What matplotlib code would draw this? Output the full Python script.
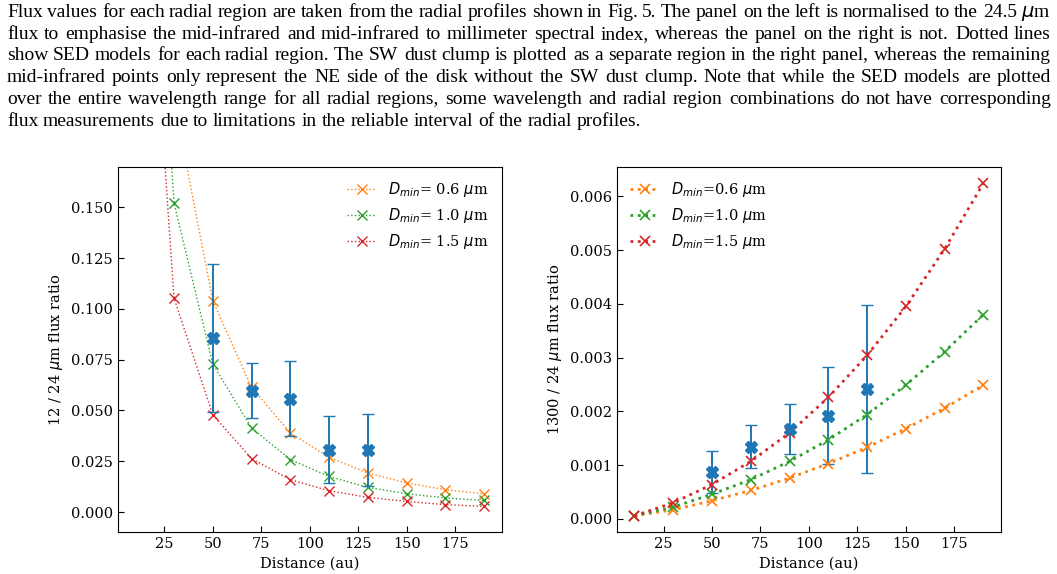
import matplotlib
matplotlib.use("Agg")
import matplotlib.pyplot as plt

plt.rcParams['font.family'] = 'DejaVu Serif'
plt.rcParams['font.size'] = 10.5

# radial regions (au)
distance = [10, 30, 50, 70, 90, 110, 130, 150, 170, 190]

# left panel: 12 / 24 um model ratios
ratio12_d06 = [0.80, 0.2025, 0.1041, 0.0614, 0.0389, 0.0269, 0.0192, 0.0143, 0.0110, 0.0089]
ratio12_d10 = [0.45, 0.1522, 0.0729, 0.0414, 0.0258, 0.0175, 0.0121, 0.0090, 0.0069, 0.0057]
ratio12_d15 = [0.386, 0.1054, 0.0479, 0.0263, 0.0159, 0.0105, 0.0072, 0.0052, 0.0036, 0.0028]

# left panel: measured ratios
obs_dist = [50, 70, 90, 110, 130]
obs12 = [0.0857, 0.0598, 0.0557, 0.0307, 0.0307]
obs12_err = [0.0365, 0.0137, 0.0184, 0.0166, 0.0177]

# right panel: 1300 / 24 um model ratios
ratio1300_d06 = [0.00006, 0.00017, 0.00034, 0.00053, 0.00076, 0.00103, 0.00133, 0.00168, 0.00206, 0.00249]
ratio1300_d10 = [0.00006, 0.00022, 0.00046, 0.00073, 0.00107, 0.00147, 0.00194, 0.00249, 0.00311, 0.00380]
ratio1300_d15 = [0.00006, 0.00030, 0.00064, 0.00107, 0.00160, 0.00226, 0.00304, 0.00395, 0.00502, 0.00624]

# right panel: measured ratios
obs1300 = [0.00087, 0.00134, 0.00167, 0.00192, 0.00242]
obs1300_err = [0.00039, 0.00040, 0.00046, 0.00090, 0.00156]

caption_lines = [
    "Flux values for each radial region are taken from the radial profiles shown in Fig. 5. The panel on the left is normalised to the 24.5 $\\mu$m",
    "flux to emphasise the mid-infrared and mid-infrared to millimeter spectral index, whereas the panel on the right is not. Dotted lines",
    "show SED models for each radial region. The SW dust clump is plotted as a separate region in the right panel, whereas the remaining",
    "mid-infrared points only represent the NE side of the disk without the SW dust clump. Note that while the SED models are plotted",
    "over the entire wavelength range for all radial regions, some wavelength and radial region combinations do not have corresponding",
    "flux measurements due to limitations in the reliable interval of the radial profiles.",
]

W, H = 1057, 574
fig = plt.figure(figsize=(W / 100, H / 100), dpi=100)

ax1 = fig.add_axes([0.1114, 0.0726, 0.3632, 0.6370])
ax2 = fig.add_axes([0.5837, 0.0726, 0.3632, 0.6370])

# Left panel
ax1.plot(distance, ratio12_d06, ls=':', marker='x', color='tab:orange', lw=1.0, ms=7,
         label='$D_{min}$= 0.6 $\\mu$m')
ax1.plot(distance, ratio12_d10, ls=':', marker='x', color='tab:green', lw=1.0, ms=7,
         label='$D_{min}$= 1.0 $\\mu$m')
ax1.plot(distance, ratio12_d15, ls=':', marker='x', color='tab:red', lw=1.0, ms=7,
         label='$D_{min}$= 1.5 $\\mu$m')
ax1.errorbar(obs_dist, obs12, yerr=obs12_err, fmt='X', color='tab:blue', ms=8,
             capsize=4, elinewidth=1.4)
ax1.set_ylim(-0.01, 0.17)
ax1.set_xlabel('Distance (au)')
ax1.set_ylabel('12 / 24 $\\mu$m flux ratio')
ax1.legend(loc='upper right', frameon=False)

# Right panel
ax2.errorbar(obs_dist, obs1300, yerr=obs1300_err, fmt='X', color='tab:blue', ms=8,
             capsize=4, elinewidth=1.4)
ax2.plot(distance, ratio1300_d06, ls=':', marker='x', color='tab:orange', lw=2, ms=7,
         mew=1.2, label='$D_{min}$=0.6 $\\mu$m')
ax2.plot(distance, ratio1300_d10, ls=':', marker='x', color='tab:green', lw=2, ms=7,
         mew=1.2, label='$D_{min}$=1.0 $\\mu$m')
ax2.plot(distance, ratio1300_d15, ls=':', marker='x', color='tab:red', lw=2, ms=7,
         mew=1.2, label='$D_{min}$=1.5 $\\mu$m')
ax2.set_xlabel('Distance (au)')
ax2.set_ylabel('1300 / 24 $\\mu$m flux ratio')
ax2.legend(loc='upper left', frameon=False)

for ax in (ax1, ax2):
    ax.tick_params(direction='in', length=4)

# Caption, justified word by word
renderer = fig.canvas.get_renderer()
left_px, right_px = 7, 1051
cap_size = 14.0
for i, line in enumerate(caption_lines):
    y_px = round(17 + i * 21.7)
    words = line.split(' ')
    texts = [fig.text(0, 1 - y_px / H, w, family='Liberation Serif', fontsize=cap_size,
                      va='baseline', ha='left') for w in words]
    widths = [t.get_window_extent(renderer).width for t in texts]
    if i < len(caption_lines) - 1:
        gap = (right_px - left_px - sum(widths)) / (len(words) - 1)
    else:
        gap = cap_size * 0.25 * 100 / 72
    x = left_px
    for t, w in zip(texts, widths):
        t.set_x(round(x) / W)
        x += w + gap

fig.savefig('out.png', dpi=100)
